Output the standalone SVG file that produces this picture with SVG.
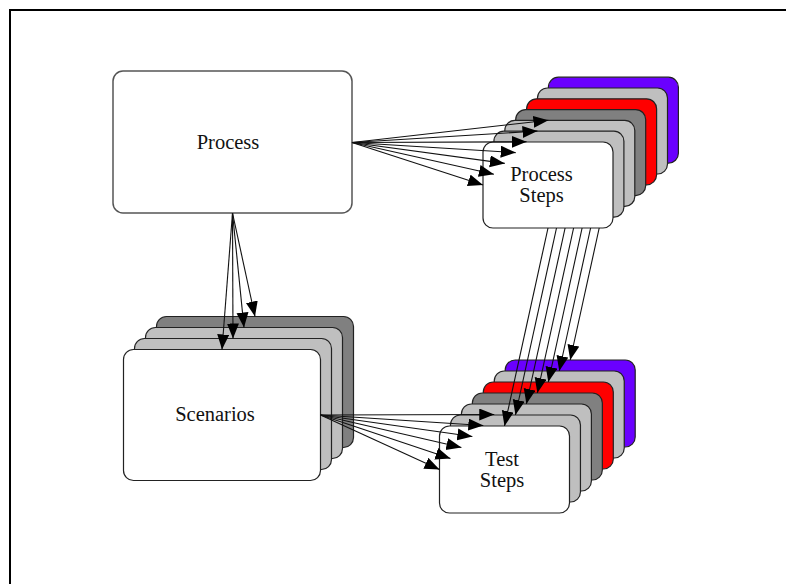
<svg xmlns="http://www.w3.org/2000/svg" width="786" height="584" viewBox="0 0 786 584">
  <defs>
    <marker id="arrow" markerUnits="userSpaceOnUse" markerWidth="16" markerHeight="13" refX="15" refY="6" orient="auto">
      <path d="M0,0 L15,6 L0,12 z" fill="#000"/>
    </marker>
    <style>
      .frame { fill: none; stroke: #000; stroke-width: 2; }
      .box { fill: #fff; stroke: #555; stroke-width: 1.5; }
      .card { stroke: #222; stroke-width: 1.2; }
      .white { fill: #fff; }
      .lgray { fill: #bfbfbf; }
      .dgray { fill: #808080; }
      .red { fill: #ff0000; }
      .purple { fill: #6a00ff; }
      .label { font-family: "Liberation Serif", "DejaVu Serif", serif; font-size: 20.5px; fill: #111; text-anchor: middle; }
      .edge { fill: none; stroke: #111; stroke-width: 1.1; marker-end: url(#arrow); }
      .flow { fill: none; stroke: #111; stroke-width: 1.1; marker-end: url(#arrow); }
    </style>
  </defs>

  <rect x="0" y="0" width="786" height="584" fill="#fff"/>
  <!-- page border (top and left) -->
  <path class="frame" d="M10,584 V10 H786"/>

  <!-- Process -->
  <g id="process">
    <rect class="box" x="113" y="71" width="239" height="142" rx="10"/>
    <text class="label" x="228" y="148.5">Process</text>
  </g>

  <!-- Process Steps: stack of seven cards, back to front -->
  <g id="process-steps">
    <rect class="card purple" x="548.4" y="77.2" width="130" height="86" rx="10"/>
    <rect class="card lgray" x="537.5" y="88" width="130" height="86" rx="10"/>
    <rect class="card red" x="526.6" y="98.8" width="130" height="86" rx="10"/>
    <rect class="card dgray" x="515.7" y="109.6" width="130" height="86" rx="10"/>
    <rect class="card lgray" x="504.8" y="120.4" width="130" height="86" rx="10"/>
    <rect class="card lgray" x="493.9" y="131.2" width="130" height="86" rx="10"/>
    <rect class="card white" x="483" y="142" width="130" height="86" rx="10"/>
    <text class="label" x="541.5" y="180.5">Process</text>
    <text class="label" x="541.5" y="201.5">Steps</text>
  </g>

  <!-- Scenarios: stack of four cards -->
  <g id="scenarios">
    <rect class="card dgray" x="156.5" y="316.5" width="197" height="131" rx="10"/>
    <rect class="card lgray" x="145.5" y="327.5" width="197" height="131" rx="10"/>
    <rect class="card lgray" x="134.5" y="338.5" width="197" height="131" rx="10"/>
    <rect class="card white" x="123.5" y="349.5" width="197" height="131" rx="10"/>
    <text class="label" x="215" y="421">Scenarios</text>
  </g>

  <!-- Test Steps: stack of seven cards -->
  <g id="test-steps">
    <rect class="card purple" x="505.2" y="360" width="130" height="87" rx="10"/>
    <rect class="card lgray" x="494.25" y="371" width="130" height="87" rx="10"/>
    <rect class="card red" x="483.3" y="382" width="130" height="87" rx="10"/>
    <rect class="card dgray" x="472.35" y="393" width="130" height="87" rx="10"/>
    <rect class="card lgray" x="461.4" y="404" width="130" height="87" rx="10"/>
    <rect class="card lgray" x="450.45" y="415" width="130" height="87" rx="10"/>
    <rect class="card white" x="439.5" y="426" width="130" height="87" rx="10"/>
    <text class="label" x="502" y="465.5">Test</text>
    <text class="label" x="502" y="486.5">Steps</text>
  </g>

  <g id="connectors">
    <!-- Process to each Process Steps card -->
    <line class="edge" x1="352" y1="142.5" x2="483" y2="185"/>
    <line class="edge" x1="352" y1="142.5" x2="493.9" y2="174.2"/>
    <line class="edge" x1="352" y1="142.5" x2="504.8" y2="163.4"/>
    <line class="edge" x1="352" y1="142.5" x2="515.7" y2="152.6"/>
    <line class="edge" x1="352" y1="142.5" x2="526.6" y2="141.8"/>
    <line class="edge" x1="352" y1="142.5" x2="537.5" y2="131"/>
    <line class="edge" x1="352" y1="142.5" x2="548.4" y2="120.2"/>

    <!-- Process to each Scenarios card -->
    <line class="edge" x1="232.5" y1="213" x2="222" y2="349.5"/>
    <line class="edge" x1="232.5" y1="213" x2="233" y2="338.5"/>
    <line class="edge" x1="232.5" y1="213" x2="244" y2="327.5"/>
    <line class="edge" x1="232.5" y1="213" x2="255" y2="316.5"/>

    <!-- Scenarios to Test Steps cards -->
    <line class="edge" x1="320.5" y1="415" x2="439.5" y2="469.5"/>
    <line class="edge" x1="320.5" y1="415" x2="450.45" y2="458.5"/>
    <line class="edge" x1="320.5" y1="415" x2="461.4" y2="447.5"/>
    <line class="edge" x1="320.5" y1="415" x2="472.35" y2="436.5"/>
    <line class="edge" x1="320.5" y1="415" x2="483.3" y2="425.5"/>
    <line class="edge" x1="320.5" y1="415" x2="494.25" y2="414.5"/>

    <!-- Process Steps cards to matching Test Steps cards -->
    <line class="flow" x1="548" y1="228" x2="504.5" y2="426"/>
    <line class="flow" x1="556.5" y1="228" x2="515.45" y2="415"/>
    <line class="flow" x1="565.1" y1="228" x2="526.4" y2="404"/>
    <line class="flow" x1="573.6" y1="228" x2="537.35" y2="393"/>
    <line class="flow" x1="582.1" y1="228" x2="548.3" y2="382"/>
    <line class="flow" x1="590.6" y1="228" x2="559.25" y2="371"/>
    <line class="flow" x1="599.2" y1="228" x2="570.2" y2="360"/>
  </g>
</svg>
